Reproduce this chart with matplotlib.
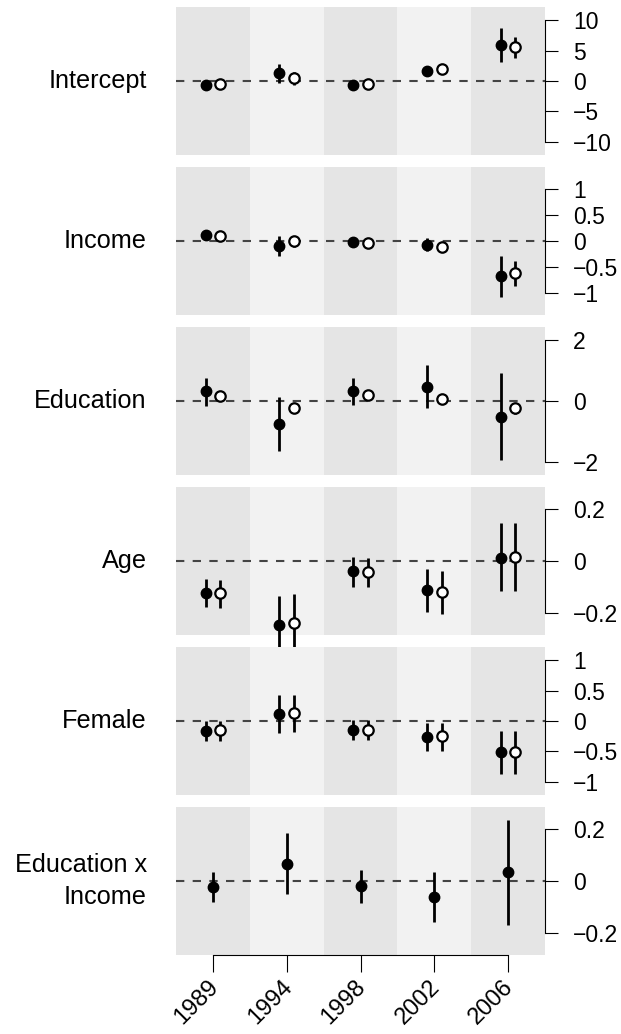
import numpy as np
import matplotlib
matplotlib.use('Agg')
import matplotlib.pyplot as plt
import matplotlib.transforms as mtransforms

plt.rcParams['font.family'] = ['Liberation Sans', 'DejaVu Sans']

years = ["1989", "1994", "1998", "2002", "2006"]
labels = ["Intercept", "Income", "Education", "Age", "Female", "Education x\nIncome"]

# filled points (est, lower, upper) per panel
intercept_a = [-0.65, 1.25, -0.65, 1.58, 5.87]
intercept_a_lo = [-1.0, -0.38, -1.0, 1.0, 3.15]
intercept_a_hi = [-0.3, 2.77, -0.3, 2.2, 8.75]
income_a = [0.114, -0.095, -0.025, -0.076, -0.68]
income_a_lo = [0.08, -0.286, -0.05, -0.2, -1.08]
income_a_hi = [0.15, 0.095, 0.0, 0.063, -0.28]
educ_a = [0.33, -0.74, 0.33, 0.47, -0.51]
educ_a_lo = [-0.15, -1.63, -0.13, -0.24, -1.93]
educ_a_hi = [0.74, 0.14, 0.74, 1.18, 0.9]
age_a = [-0.124, -0.248, -0.039, -0.112, 0.013]
age_a_lo = [-0.18, -0.36, -0.099, -0.197, -0.117]
age_a_hi = [-0.069, -0.134, 0.016, -0.03, 0.146]
female_a = [-0.165, 0.121, -0.143, -0.264, -0.512]
female_a_lo = [-0.33, -0.193, -0.32, -0.496, -0.87]
female_a_hi = [0.0, 0.435, 0.01, -0.033, -0.165]
eduinc_a = [-0.022, 0.066, -0.019, -0.06, 0.035]
eduinc_a_lo = [-0.079, -0.051, -0.083, -0.156, -0.166]
eduinc_a_hi = [0.036, 0.183, 0.042, 0.035, 0.234]

# open points
intercept_b = [-0.55, 0.43, -0.5, 1.96, 5.6]
intercept_b_lo = [-0.9, -0.65, -0.85, 1.5, 3.86]
intercept_b_hi = [-0.2, 1.5, -0.15, 2.4, 7.3]
income_b = [0.10, 0.006, -0.044, -0.12, -0.616]
income_b_lo = [0.07, -0.12, -0.07, -0.17, -0.87]
income_b_hi = [0.13, 0.095, -0.02, -0.07, -0.38]
educ_b = [0.17, -0.24, 0.2, 0.05, -0.24]
educ_b_lo = [0.07, -0.34, 0.1, -0.05, -0.44]
educ_b_hi = [0.27, -0.14, 0.3, 0.15, -0.12]
age_b = [-0.126, -0.241, -0.043, -0.121, 0.016]
age_b_lo = [-0.184, -0.355, -0.102, -0.206, -0.117]
age_b_hi = [-0.072, -0.128, 0.013, -0.039, 0.146]
female_b = [-0.154, 0.132, -0.143, -0.253, -0.512]
female_b_lo = [-0.33, -0.18, -0.32, -0.496, -0.87]
female_b_hi = [0.0, 0.435, 0.01, -0.033, -0.165]

yticks = [[-10, -5, 0, 5, 10], [-1, -0.5, 0, 0.5, 1], [-2, 0, 2],
          [-0.2, 0, 0.2], [-1, -0.5, 0, 0.5, 1], [-0.2, 0, 0.2]]
ylims = [12.2, 1.42, 2.42, 0.287, 1.215, 0.282]

series_a = [(intercept_a, intercept_a_lo, intercept_a_hi),
            (income_a, income_a_lo, income_a_hi),
            (educ_a, educ_a_lo, educ_a_hi),
            (age_a, age_a_lo, age_a_hi),
            (female_a, female_a_lo, female_a_hi),
            (eduinc_a, eduinc_a_lo, eduinc_a_hi)]
series_b = [(intercept_b, intercept_b_lo, intercept_b_hi),
            (income_b, income_b_lo, income_b_hi),
            (educ_b, educ_b_lo, educ_b_hi),
            (age_b, age_b_lo, age_b_hi),
            (female_b, female_b_lo, female_b_hi),
            None]

W, H = 621, 1034
fig = plt.figure(figsize=(W / 100, H / 100), dpi=100)

x = np.arange(1, len(years) + 1)
fs = 16.5

for i in range(6):
    top = 7 + 160 * i
    ax = fig.add_axes([176 / W, 1 - (top + 148) / H, 369 / W, 148 / H])
    ax.set_xlim(0.5, 5.5)
    ax.set_ylim(-ylims[i], ylims[i])
    # alternating background bands, one per year
    for k in range(len(years)):
        col = '#e5e5e5' if k % 2 == 0 else '#f2f2f2'
        ax.axvspan(k + 0.5, k + 1.5, color=col, lw=0, zorder=0)
    ax.axhline(0, color='#444444', lw=1.5, dashes=(4, 4), zorder=1)

    est, lo, hi = series_a[i]
    xa = x - 0.1 if series_b[i] is not None else x
    ax.vlines(xa, lo, hi, color='black', lw=2, zorder=2, clip_on=False)
    ax.plot(xa, est, 'o', color='black', ms=7.5, zorder=3, clip_on=False)
    if series_b[i] is not None:
        est, lo, hi = series_b[i]
        ax.vlines(x + 0.1, lo, hi, color='black', lw=2, zorder=2, clip_on=False)
        ax.plot(x + 0.1, est, 'o', mfc='white', mec='black', mew=1.6, ms=7.5,
                zorder=3, clip_on=False)

    for s in ['top', 'left', 'bottom']:
        ax.spines[s].set_visible(False)
    ax.spines['right'].set_bounds(yticks[i][0], yticks[i][-1])
    ax.spines['right'].set_linewidth(0.8)
    ax.yaxis.tick_right()
    ax.set_yticks(yticks[i])
    ax.set_yticklabels(['%g' % t if t >= 0 else '\u2212%g' % -t for t in yticks[i]])
    ax.tick_params(axis='y', direction='out', length=9.5, width=0.8, pad=10.5,
                   labelsize=fs)

    ax.text(-0.079, 0.5, labels[i], transform=ax.transAxes, ha='right', va='center',
            fontsize=18.2, linespacing=1.4)

    if i == 5:
        ax.spines['bottom'].set_visible(True)
        ax.spines['bottom'].set_bounds(1, 5)
        ax.spines['bottom'].set_linewidth(0.8)
        ax.set_xticks(x)
        ax.set_xticklabels(years, rotation=45, ha='right', va='center',
                           rotation_mode='anchor')
        ax.tick_params(axis='x', direction='out', length=12, width=0.8, pad=8.5,
                       labelsize=17)
        shift = mtransforms.ScaledTranslation(2 / 100, 0, fig.dpi_scale_trans)
        for lab in ax.get_xticklabels():
            lab.set_transform(lab.get_transform() + shift)
    else:
        ax.set_xticks([])

fig.savefig('out.png', dpi=100)
